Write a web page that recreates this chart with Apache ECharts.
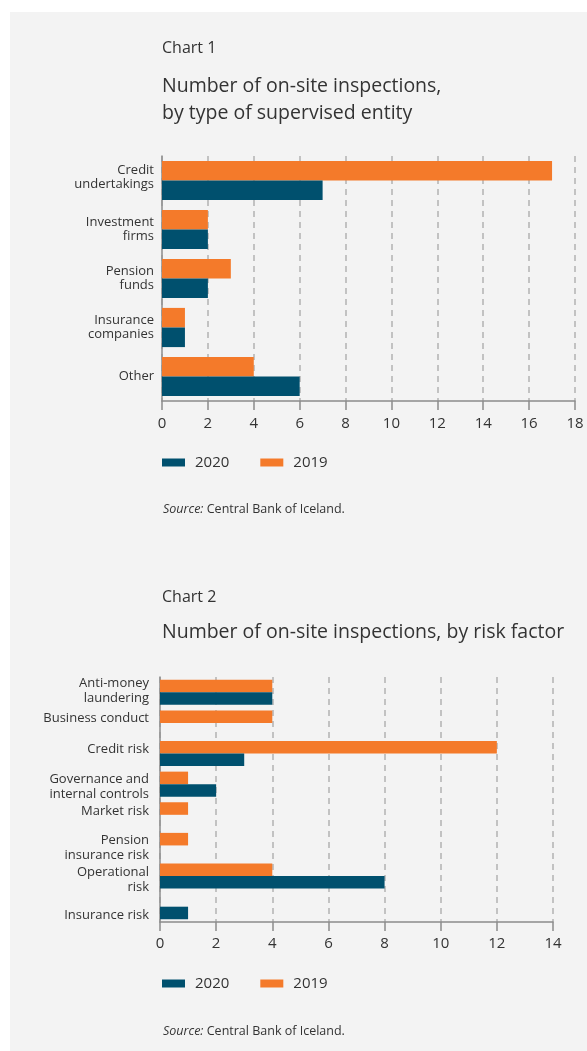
<!DOCTYPE html>
<html>
<head>
<meta charset="utf-8">
<script src="https://cdn.jsdelivr.net/npm/echarts@6/dist/echarts.min.js"></script>
<style>
  html, body { margin: 0; padding: 0; background: #ffffff; }
  #panel { position: absolute; left: 10px; top: 12px; width: 577px; height: 1039px; background: #f3f3f3; }
  #chart { position: absolute; left: 0; top: 0; width: 587px; height: 1051px; }
</style>
</head>
<body>
<div id="panel"></div>
<div id="chart"></div>
<script>
// Chart 1: on-site inspections by type of supervised entity
const entityCategories = ['Credit\nundertakings', 'Investment\nfirms', 'Pension\nfunds', 'Insurance\ncompanies', 'Other'];
const entity2019 = [17, 2, 3, 1, 4];
const entity2020 = [7, 2, 2, 1, 6];

// Chart 2: on-site inspections by risk factor
const riskCategories = ['Anti-money\nlaundering', 'Business conduct', 'Credit risk', 'Governance and\ninternal controls', 'Market risk', 'Pension\ninsurance risk', 'Operational\nrisk', 'Insurance risk'];
const risk2019 = [4, 4, 12, 1, 1, 1, 4, 0];
const risk2020 = [4, 0, 3, 2, 0, 0, 8, 1];

const legendNames = ['2020', '2019'];
const sourceText = '{i|Source:} Central Bank of Iceland.';

const FONT = '"Open Sans", sans-serif';
const TEXT = '#333333';
const AXIS = '#8c8c8c';
const ORANGE = '#f47a2a';
const BLUE = '#00506e';

// vertical nudges for individual category labels (px, positive = down)
const entityLabelShift = { 'Credit\nundertakings': -3 };
const riskLabelShift = {
  'Anti-money\nlaundering': -1.5, 'Business conduct': -5, 'Credit risk': -4,
  'Governance and\ninternal controls': 3, 'Market risk': -4, 'Pension\ninsurance risk': 2,
  'Operational\nrisk': 4, 'Insurance risk': 9
};

const chart = echarts.init(document.getElementById('chart'), null, { renderer: 'canvas' });

function valueAxis(gridIndex, max, labelMargin) {
  return {
    type: 'value', gridIndex, min: 0, max, interval: 2,
    axisLine: { show: true, lineStyle: { color: AXIS, width: 1.5 } },
    axisTick: { show: true, length: 9, lineStyle: { color: AXIS, width: 1.5 } },
    axisLabel: { color: TEXT, fontSize: 15, fontFamily: FONT, margin: labelMargin },
    splitLine: { show: true, lineStyle: { color: '#b3b3b3', width: 1.5, type: [6, 5] } }
  };
}

// A blank spacer line above or below a label moves its text block off the band centre.
function spacerStyles(shifts) {
  const rich = {};
  Object.keys(shifts).forEach(function (k) {
    const h = Math.round(Math.abs(2 * shifts[k]));
    rich['g' + h] = { lineHeight: h, fontSize: 1 };
  });
  return rich;
}

function shiftedFormatter(shifts) {
  return function (value) {
    const s = shifts[value] || 0;
    if (!s) return value;
    const key = 'g' + Math.round(Math.abs(2 * s));
    return s < 0 ? value + '\n{' + key + '| }' : '{' + key + '| }\n' + value;
  };
}

function categoryAxis(gridIndex, names, shifts, labelMargin, lineHeight) {
  return {
    type: 'category', gridIndex, data: names, inverse: true,
    axisLine: { show: true, lineStyle: { color: AXIS, width: 1.5 } },
    axisTick: { show: false },
    axisLabel: {
      interval: 0, color: TEXT, fontSize: 13, lineHeight, fontFamily: FONT, margin: labelMargin, align: 'right',
      formatter: shiftedFormatter(shifts), rich: spacerStyles(shifts)
    }
  };
}

function legend(top) {
  return {
    data: legendNames, left: 157, top, icon: 'rect', itemWidth: 23, itemHeight: 8, itemGap: 31,
    textStyle: { color: TEXT, fontSize: 15, fontFamily: FONT, padding: [0, 0, 0, 5] }
  };
}

function titleText(text, top, size, lineHeight) {
  return { text, left: 162, top, padding: 0, textStyle: { color: TEXT, fontSize: size, lineHeight, fontWeight: 'normal', fontFamily: FONT } };
}

function source(top) {
  return {
    text: sourceText, left: 163, top, padding: 0,
    textStyle: {
      color: TEXT, fontSize: 12.5, fontWeight: 'normal', fontFamily: FONT,
      rich: { i: { fontStyle: 'italic', fontSize: 12.5, color: TEXT, fontFamily: FONT } }
    }
  };
}

function bars(name, data, axisIndex, color, gap) {
  return {
    type: 'bar', name, data, xAxisIndex: axisIndex, yAxisIndex: axisIndex,
    barGap: '0%', barCategoryGap: gap, itemStyle: { color }, animation: false
  };
}

chart.setOption({
  animation: false,
  textStyle: { fontFamily: FONT },
  color: [ORANGE, BLUE],
  title: [
    titleText('Chart 1', 38, 16, 20),
    titleText('Number of on-site inspections,\nby type of supervised entity', 73, 19.5, 27),
    source(503),
    titleText('Chart 2', 587, 16, 20),
    titleText('Number of on-site inspections, by risk factor', 619, 19.5, 27),
    source(1025)
  ],
  legend: [legend(450), legend(971)],
  grid: [
    { left: 162, right: 12, top: 156, height: 245, containLabel: false },
    { left: 160, right: 34, top: 677, height: 245, containLabel: false }
  ],
  xAxis: [valueAxis(0, 18, 15), valueAxis(1, 14, 14)],
  yAxis: [categoryAxis(0, entityCategories, entityLabelShift, 8, 14), categoryAxis(1, riskCategories, riskLabelShift, 11, 15)],
  series: [
    bars('2019', entity2019, 0, ORANGE, '20%'),
    bars('2020', entity2020, 0, BLUE, '20%'),
    bars('2019', risk2019, 1, ORANGE, '18%'),
    bars('2020', risk2020, 1, BLUE, '18%')
  ]
});
</script>
</body>
</html>
